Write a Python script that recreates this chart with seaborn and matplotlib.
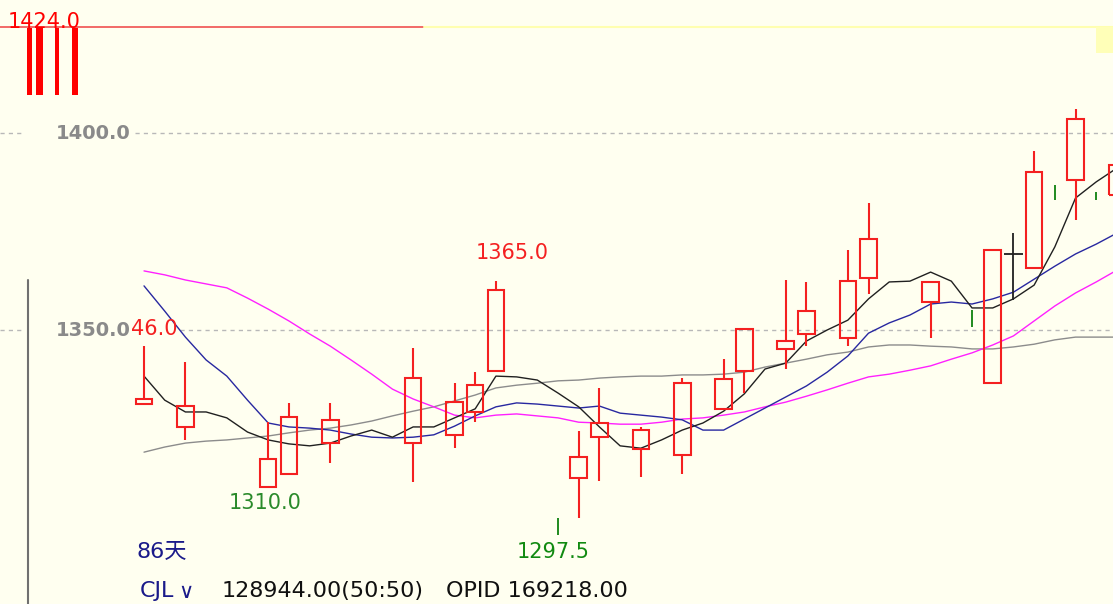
import numpy as np
import pandas as pd
import matplotlib
matplotlib.use("Agg")
import matplotlib.pyplot as plt
from matplotlib.patches import Rectangle
import seaborn as sns

# ---------------- data ----------------
slots = list(range(48))

ma_black = [1338.3, 1332.2, 1329.2, 1329.2, 1327.7, 1324.1, 1322.1, 1321.1, 1320.6, 1321.3,
            1323.1, 1324.6, 1322.8, 1325.4, 1325.4, 1327.7, 1330.0, 1338.3, 1338.1, 1337.3,
            1334.0, 1330.5, 1325.4, 1320.6, 1320.0, 1322.1, 1324.6, 1326.4, 1329.4, 1333.8,
            1340.1, 1341.6, 1347.2, 1350.0, 1352.5, 1357.9, 1362.2, 1362.4, 1364.7, 1362.4,
            1355.6, 1355.6, 1357.9, 1361.4, 1371.1, 1383.5, 1387.6, 1391.1]
ma_blue = [1361.2, 1354.8, 1348.2, 1342.4, 1338.3, 1332.2, 1326.4, 1325.4, 1325.1, 1324.6,
           1323.6, 1322.8, 1322.6, 1322.8, 1323.4, 1325.6, 1328.2, 1330.5, 1331.5, 1331.2,
           1330.7, 1330.2, 1330.7, 1328.9, 1328.4, 1327.9, 1327.2, 1324.6, 1324.6, 1327.4,
           1330.2, 1333.0, 1335.8, 1339.3, 1343.4, 1349.2, 1351.8, 1353.8, 1356.6, 1357.1,
           1356.6, 1357.9, 1359.6, 1362.9, 1366.2, 1369.3, 1371.8, 1374.6]
ma_magenta = [1365.0, 1364.0, 1362.7, 1361.7, 1360.7, 1358.1, 1355.3, 1352.3, 1349.0, 1345.9,
              1342.4, 1338.8, 1335.0, 1332.5, 1330.5, 1328.4, 1327.7, 1328.4, 1328.7, 1328.2,
              1327.7, 1326.6, 1326.4, 1326.1, 1326.1, 1326.6, 1327.4, 1327.7, 1328.4, 1329.2,
              1330.5, 1331.7, 1333.2, 1334.8, 1336.5, 1338.1, 1338.8, 1339.8, 1340.9, 1342.6,
              1344.2, 1346.2, 1348.5, 1352.3, 1356.1, 1359.4, 1362.2, 1365.2]
ma_gray = [1319.0, 1320.3, 1321.3, 1321.8, 1322.1, 1322.6, 1323.1, 1323.9, 1324.6, 1325.1,
           1325.9, 1326.9, 1328.2, 1329.4, 1330.5, 1332.0, 1333.5, 1335.3, 1336.0, 1336.5,
           1337.1, 1337.3, 1337.8, 1338.1, 1338.3, 1338.3, 1338.6, 1338.6, 1338.8, 1339.3,
           1340.6, 1341.6, 1342.6, 1343.7, 1344.4, 1345.7, 1346.2, 1346.2, 1345.9, 1345.7,
           1345.2, 1345.2, 1345.7, 1346.4, 1347.5, 1348.2, 1348.2, 1348.2]

# hollow red candles
up_idx   = [0, 2, 6, 7, 9, 13, 15, 16, 17, 21, 22, 24, 26, 28, 29, 31, 32, 34, 35, 38, 41, 43, 45, 47]
up_open  = [1331.2, 1325.4, 1310.2, 1313.5, 1321.3, 1321.3, 1323.4, 1329.2, 1339.6, 1312.4,
            1322.8, 1319.8, 1318.3, 1330.0, 1339.6, 1345.2, 1349.0, 1348.0, 1363.2, 1357.1,
            1336.5, 1365.7, 1388.1, 1384.3]
up_close = [1332.5, 1330.7, 1317.3, 1327.9, 1327.2, 1337.8, 1331.7, 1336.0, 1360.2, 1317.8,
            1326.4, 1324.6, 1336.5, 1337.6, 1350.3, 1347.2, 1354.8, 1362.4, 1373.1, 1362.2,
            1370.3, 1390.1, 1403.6, 1391.9]
up_high  = [1346.0, 1341.9, 1326.6, 1331.5, 1331.5, 1345.4, 1336.5, 1339.3, 1362.4, 1324.4,
            1335.3, 1325.4, 1337.8, 1342.6, 1350.3, 1362.7, 1362.2, 1370.3, 1382.2, 1362.4,
            1370.5, 1395.4, 1406.1, 1393.1]
up_low   = [1331.2, 1322.1, 1310.0, 1313.5, 1316.2, 1311.4, 1320.1, 1326.6, 1339.6, 1302.3,
            1311.7, 1312.7, 1313.5, 1330.0, 1334.0, 1340.1, 1345.9, 1345.9, 1359.1, 1348.0,
            1336.3, 1365.7, 1377.9, 1384.3]

# flat (doji) candle
flat_idx = [42]
flat_price = [1369.3]
flat_high = [1374.6]
flat_low = [1357.6]

# partially drawn green (down) marks
dn_idx = [20, 40, 44, 46]
dn_top = [1302.3, 1355.1, 1386.8, 1385.0]
dn_bot = [1298.0, 1350.8, 1383.0, 1383.0]

grid_levels = [1400.0, 1350.0]
grid_labels = ["1400.0", "1350.0"]

# ---------------- style ----------------
BG = "#fffff0"
RED = "#f42020"
sns.set_style("white")
plt.rcParams["font.family"] = ["DejaVu Sans", "Noto Sans CJK SC"]

fig = plt.figure(figsize=(11.13, 6.04), dpi=100, facecolor=BG)
ax = fig.add_axes([0, 0, 1, 1])
ax.set_facecolor(BG)
X0, X1 = -6.957, 46.81
Y0, Y1 = 1280.46, 1433.76

# dashed grid lines (interrupted at the labels)
for lv in grid_levels:
    ax.hlines(lv, X0, -5.89, colors="#b8b8b8", linestyles=(0, (3, 3)), lw=1.0, zorder=1)
start_right = [-0.43, 1.74]
for lv, st in zip(grid_levels, start_right):
    ax.hlines(lv, st, X1, colors="#b8b8b8", linestyles=(0, (3, 3)), lw=1.0, zorder=1)

# moving average lines via seaborn
df = pd.DataFrame({
    "idx": slots * 4,
    "val": ma_gray + ma_magenta + ma_blue + ma_black,
    "ma": ["gray"] * 48 + ["magenta"] * 48 + ["blue"] * 48 + ["black"] * 48,
})
pal = {"gray": "#8c8c8c", "magenta": "#ff20ff", "blue": "#2828a0", "black": "#202020"}
sns.lineplot(data=df, x="idx", y="val", hue="ma", palette=pal, legend=False,
             sort=False, lw=1.0, ax=ax, zorder=3)

# candles
W = 0.8
o = np.array(up_open); c = np.array(up_close)
ax.bar(up_idx, c - o, bottom=o, width=W, facecolor="none", edgecolor=RED, lw=1.5, zorder=4)
ax.vlines(up_idx, c, up_high, colors=RED, lw=1.5, zorder=4)
ax.vlines(up_idx, up_low, o, colors=RED, lw=1.5, zorder=4)

ax.vlines(flat_idx, flat_low, flat_high, colors="#202020", lw=1.3, zorder=4)
ax.hlines(flat_price, np.array(flat_idx) - 0.45, np.array(flat_idx) + 0.45,
          colors="#202020", lw=1.3, zorder=4)

ax.vlines(dn_idx, dn_bot, dn_top, colors="#1f8a1f", lw=1.4, zorder=4)

ax.set_xlim(X0, X1)
ax.set_ylim(Y0, Y1)
ax.axis("off")

# axis labels inside the plot
for lv, lab in zip(grid_levels, grid_labels):
    ax.text(-0.63, lv, lab, ha="right", va="center", fontsize=14, fontweight="bold",
            color="#8a8a8a", zorder=6)
# the visible (partly hidden) max label of the first candle
ax.text(1.62, 1350.3, "46.0", ha="right", va="center", fontsize=15, color=RED, zorder=5)

# high / low annotations
ax.text(17.78, 1369.5, "1365.0", ha="center", va="center", fontsize=15, color=RED, zorder=6)
ax.text(5.85, 1306.1, "1310.0", ha="center", va="center", fontsize=15, color="#2a8a2a", zorder=6)
ax.text(19.76, 1293.7, "1297.5", ha="center", va="center", fontsize=15, color="#118a11", zorder=6)

# left vertical axis line
ax.plot([28 / 1113, 28 / 1113], [0, 1 - 280 / 604], transform=ax.transAxes,
        color="#707070", lw=1.5, zorder=7)

# top artefacts: max line, highlight, ghost bars
ax.plot([0, 424 / 1113], [1 - 27 / 604] * 2, transform=ax.transAxes, color="#f05050", lw=1.2, zorder=5)
ax.plot([424 / 1113, 1], [1 - 27 / 604] * 2, transform=ax.transAxes, color="#ffffb0", lw=1.5, zorder=5)
ax.add_patch(Rectangle((1096 / 1113, 1 - 53 / 604), 17 / 1113, 26 / 604, transform=ax.transAxes,
                       facecolor="#ffffb8", edgecolor="none", zorder=5))
for left, wpx in [(27, 5), (36, 7), (55, 4), (72, 6)]:
    ax.add_patch(Rectangle((left / 1113, 1 - 95 / 604), wpx / 1113, 67 / 604,
                           transform=ax.transAxes, facecolor="#ff0000", edgecolor="none", zorder=5))
ax.text(8 / 1113, 1 - 22 / 604, "1424.0", transform=ax.transAxes, ha="left", va="center",
        fontsize=15, color="#ff0000", zorder=6)

# bottom info texts
ax.text(137 / 1113, 1 - 552 / 604, "86天", transform=ax.transAxes, ha="left", va="center",
        fontsize=16, color="#1a1a8a", zorder=6)
ax.text(140 / 1113, 1 - 591 / 604, "CJL", transform=ax.transAxes, ha="left", va="center",
        fontsize=16, color="#1a1a8a", zorder=6)
ax.text(178 / 1113, 1 - 592 / 604, "∨", transform=ax.transAxes, ha="left", va="center",
        fontsize=15, color="#1a1a8a", zorder=6)
ax.text(222 / 1113, 1 - 591 / 604, "128944.00(50:50)", transform=ax.transAxes, ha="left",
        va="center", fontsize=16, color="#101010", zorder=6)
ax.text(446 / 1113, 1 - 591 / 604, "OPID 169218.00", transform=ax.transAxes, ha="left",
        va="center", fontsize=16, color="#101010", zorder=6)

fig.savefig("out.png", dpi=100, facecolor=BG)
